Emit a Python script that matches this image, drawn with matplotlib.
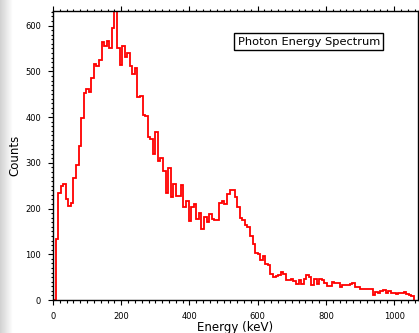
import numpy as np
import matplotlib
matplotlib.use('Agg')
import matplotlib.pyplot as plt
from matplotlib.ticker import MultipleLocator

# counts per 7.5 keV bin
bin_width = 7.5
counts_low = [0, 134, 233, 249, 253, 221, 206, 213, 266, 295, 337, 399, 453, 462, 454,
              485, 517, 512, 525, 565, 556, 567, 550, 594, 632, 552, 514, 556, 531, 541,
              512, 495, 507, 443, 447, 404, 403, 357, 353, 320, 367, 304, 311, 282, 235,
              288, 226, 254, 227, 227, 252, 203, 216, 172, 204, 210, 178, 191]
counts_bump = [156, 181, 170, 187, 178, 174, 174, 212, 216, 210, 232, 241, 241, 225, 203,
               179, 174, 163, 159, 141, 122, 103]
counts_tail = [100, 88, 96, 78, 76, 56, 51, 52, 54, 62, 57, 43, 43, 45, 41, 35, 43, 36,
               45, 54, 51, 33, 47, 35, 47, 43, 38, 30, 30, 40, 38]
counts_high = [37, 29, 33, 33, 33, 35, 37, 28, 28, 23, 24, 23, 23, 25, 11, 18, 16, 20,
               22, 16, 20, 15, 15, 14, 16, 16, 17, 14, 12, 9]

counts = np.array(counts_low + counts_bump + counts_tail + counts_high)
edges = np.arange(len(counts) + 1) * bin_width

x_ticks = [0, 200, 400, 600, 800, 1000]
y_ticks = [0, 100, 200, 300, 400, 500, 600]

fig = plt.figure(figsize=(4.19, 3.33), dpi=100)

# grey shadow strip on the left edge
sh = fig.add_axes([0, 0, 12 / 419, 1])
grad = np.linspace(0.82, 1.0, 50).reshape(1, -1)
sh.imshow(grad, cmap='gray', vmin=0, vmax=1, aspect='auto', extent=[0, 1, 0, 1])
sh.axis('off')

ax = fig.add_axes([53 / 419, 33 / 333, 365 / 419, 289 / 333])
ax.stairs(counts, edges, color='#ff0000', linewidth=1.3)

ax.set_xlim(0, 1070)
ax.set_ylim(0, 632)
ax.set_xticks(x_ticks)
ax.set_yticks(y_ticks)
ax.xaxis.set_minor_locator(MultipleLocator(20))
ax.yaxis.set_minor_locator(MultipleLocator(10))
ax.tick_params(which='both', direction='out', top=True, right=True,
               width=0.8, labelsize=6, colors='black')
ax.tick_params(which='major', length=3.6, pad=5)
ax.tick_params(which='minor', length=1.8)
for s in ax.spines.values():
    s.set_linewidth(1.0)

ax.set_xlabel('Energy (keV)', fontsize=8.5)
ax.set_ylabel('Counts', fontsize=8.5)
ax.xaxis.set_label_coords(0.5, -0.072)
ax.yaxis.set_label_coords(-0.088, 0.5)

ax.text(0.701, 0.894, 'Photon Energy Spectrum', transform=ax.transAxes,
        fontsize=8.2, ha='center', va='center',
        bbox=dict(boxstyle='square,pad=0.3', facecolor='white',
                  edgecolor='black', linewidth=1.0))

fig.savefig('out.png', dpi=100)
